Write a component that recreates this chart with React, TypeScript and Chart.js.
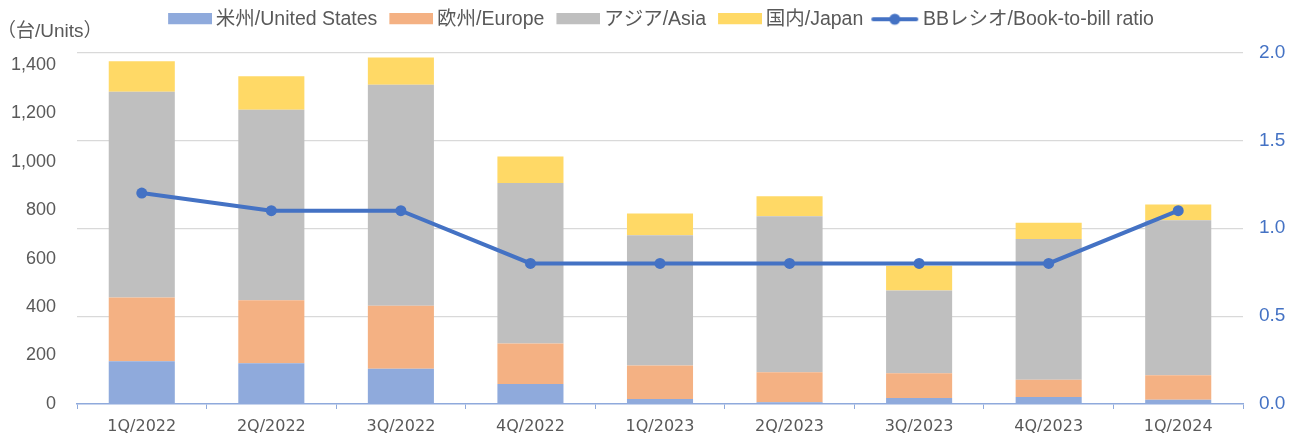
import React, { useEffect, useRef } from 'react';
import { Chart, registerables } from 'chart.js';

Chart.register(...registerables);

const categories = ['1Q/2022', '2Q/2022', '3Q/2022', '4Q/2022', '1Q/2023', '2Q/2023', '3Q/2023', '4Q/2023', '1Q/2024'];
const usUnits = [176, 168, 145, 82, 21, 7, 25, 29, 18];
const europeUnits = [263, 260, 260, 168, 138, 124, 102, 71, 101];
const asiaUnits = [849, 786, 912, 662, 537, 644, 341, 581, 639];
const japanUnits = [126, 138, 112, 109, 90, 82, 102, 67, 65];
const bbRatio = [1.2, 1.1, 1.1, 0.8, 0.8, 0.8, 0.8, 0.8, 1.1];

const seriesLabels = ['米州/United States', '欧州/Europe', 'アジア/Asia', '国内/Japan', 'BBレシオ/Book-to-bill ratio'];
const seriesColors = ['#8FAADC', '#F4B183', '#BFBFBF', '#FFD966', '#4472C4'];
const unitsTitle = '（台/Units）';

const FONT = '"Liberation Sans", "Noto Sans CJK JP", sans-serif';
const TEXT_COLOR = '#595959';
const LEGEND_SHIFT = 9;

function makeBoxImage(color: string) {
  const c = document.createElement('canvas');
  c.width = 52;
  c.height = 12;
  const ctx = c.getContext('2d')!;
  ctx.fillStyle = color;
  ctx.fillRect(8, 0, 44, 11);
  return c;
}

function makeLineImage(color: string) {
  const c = document.createElement('canvas');
  c.width = 52;
  c.height = 14;
  const ctx = c.getContext('2d')!;
  ctx.strokeStyle = color;
  ctx.lineWidth = 4;
  ctx.lineCap = 'round';
  ctx.beginPath();
  ctx.moveTo(6, 7);
  ctx.lineTo(49, 7);
  ctx.stroke();
  ctx.fillStyle = color;
  ctx.beginPath();
  ctx.arc(27.5, 7, 5.5, 0, Math.PI * 2);
  ctx.fill();
  return c;
}

const unitsLabelPlugin = {
  id: 'unitsLabel',
  afterDraw(chart: any) {
    const ctx = chart.ctx;
    ctx.save();
    ctx.font = '19px ' + FONT;
    ctx.fillStyle = TEXT_COLOR;
    ctx.textBaseline = 'middle';
    ctx.textAlign = 'left';
    ctx.fillText(unitsTitle, -3, 32);
    ctx.restore();
  },
};

const legendShiftPlugin = {
  id: 'legendShift',
  afterLayout(chart: any) {
    const lg = chart.legend;
    if (lg) {
      lg.left += LEGEND_SHIFT;
      lg.right += LEGEND_SHIFT;
      lg.top -= 13.5;
      lg.bottom -= 13.5;
    }
  },
};

export default function App() {
  const canvasRef = useRef<HTMLCanvasElement | null>(null);

  useEffect(() => {
    if (!canvasRef.current) return;
    const images = [
      makeBoxImage(seriesColors[0]),
      makeBoxImage(seriesColors[1]),
      makeBoxImage(seriesColors[2]),
      makeBoxImage(seriesColors[3]),
      makeLineImage(seriesColors[4]),
    ];
    const barSeries = [usUnits, europeUnits, asiaUnits, japanUnits];
    const datasets: any[] = barSeries.map((d, i) => ({
      type: 'bar',
      label: seriesLabels[i],
      data: d,
      backgroundColor: seriesColors[i],
      borderWidth: 0,
      yAxisID: 'y',
      order: 1,
      barPercentage: 0.51,
      categoryPercentage: 1.0,
    }));
    datasets.push({
      type: 'line',
      label: seriesLabels[4],
      data: bbRatio,
      borderColor: seriesColors[4],
      backgroundColor: seriesColors[4],
      borderWidth: 4,
      pointRadius: 5.5,
      pointBorderWidth: 0,
      pointBackgroundColor: seriesColors[4],
      tension: 0,
      yAxisID: 'y1',
      order: 0,
    });

    const chart = new Chart(canvasRef.current, {
      type: 'bar',
      data: { labels: categories, datasets },
      options: {
        responsive: false,
        animation: false,
        layout: { padding: { top: 13, left: 0, right: 0, bottom: 0 } },
        plugins: {
          tooltip: { enabled: false },
          legend: {
            position: 'top',
            align: 'center',
            labels: {
              usePointStyle: true,
              pointStyleWidth: 40,
              padding: 10,
              color: TEXT_COLOR,
              font: { family: FONT, size: 19.5 },
              sort: (a: any, b: any) => a.datasetIndex - b.datasetIndex,
              generateLabels: (ch: any) => {
                const items = (Chart.defaults as any).plugins.legend.labels.generateLabels(ch);
                items.forEach((it: any) => {
                  it.pointStyle = images[it.datasetIndex];
                  it.fontColor = TEXT_COLOR;
                  it.lineWidth = 0;
                });
                return items;
              },
            },
          },
        },
        scales: {
          x: {
            stacked: true,
            afterFit: (s: any) => { s.height = 35; },
            grid: {
              display: true,
              drawOnChartArea: false,
              drawTicks: true,
              tickLength: 5,
              color: '#8FAADC',
              lineWidth: 1,
            },
            border: { display: true, color: '#8FAADC', width: 1.5 },
            ticks: {
              color: TEXT_COLOR,
              padding: 8,
              font: { family: '"DejaVu Sans", sans-serif', size: 16 },
              maxRotation: 0,
            },
          },
          y: {
            type: 'linear',
            position: 'left',
            stacked: true,
            min: 0,
            max: 1450,
            afterFit: (s: any) => { s.width = 77; },
            grid: { display: false, drawTicks: false },
            border: { display: false },
            ticks: {
              stepSize: 200,
              includeBounds: false,
              padding: 21,
              color: TEXT_COLOR,
              font: { family: FONT, size: 18 },
              callback: (v: any) => Number(v).toLocaleString('en-US'),
            },
          },
          y1: {
            type: 'linear',
            position: 'right',
            stacked: false,
            min: 0,
            max: 2,
            afterFit: (s: any) => { s.width = 59; },
            grid: {
              display: true,
              drawTicks: false,
              color: (c: any) => (c.tick && c.tick.value === 0 ? 'rgba(0,0,0,0)' : '#D9D9D9'),
              lineWidth: 1.2,
            },
            border: { display: false },
            ticks: {
              stepSize: 0.5,
              padding: 16,
              color: '#4472C4',
              font: { family: FONT, size: 19 },
              callback: (v: any) => Number(v).toFixed(1),
            },
          },
        },
      } as any,
      plugins: [unitsLabelPlugin, legendShiftPlugin],
    });
    return () => chart.destroy();
  }, []);

  return (
    <div style={{ position: 'fixed', left: 0, top: 0, width: 1302, height: 439, background: '#fff' }}>
      <canvas ref={canvasRef} width={1302} height={439} style={{ display: 'block' }} />
    </div>
  );
}
